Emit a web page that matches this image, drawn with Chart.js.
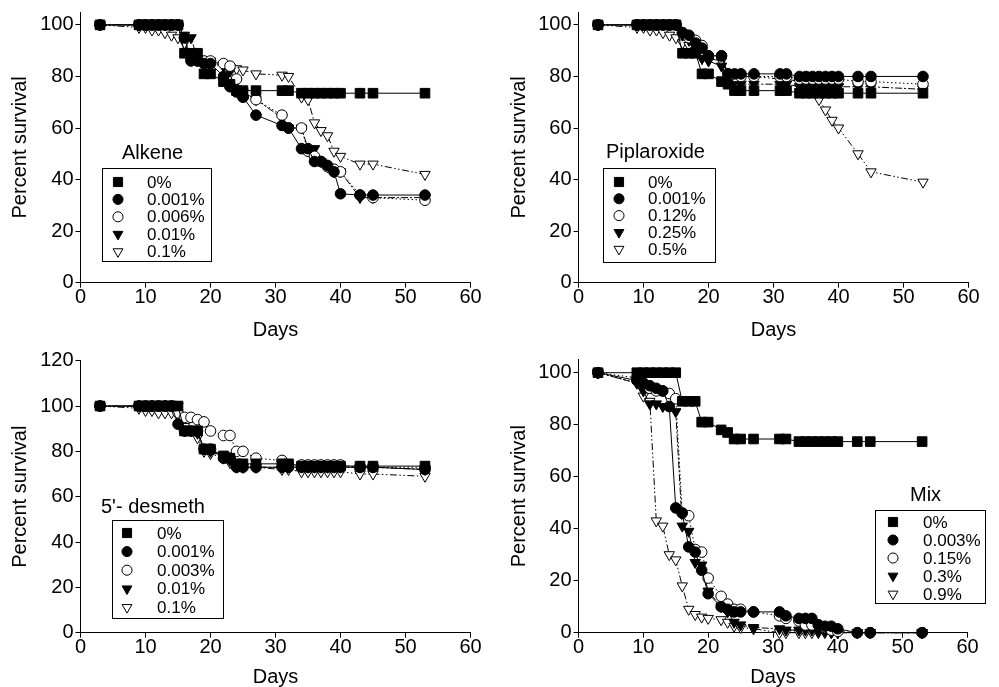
<!DOCTYPE html>
<html>
<head>
<meta charset="utf-8">
<title>Percent survival</title>
<script src="https://cdn.jsdelivr.net/npm/chart.js@4.4.1/dist/chart.umd.min.js"></script>
<style>
  html, body { margin: 0; padding: 0; background: #fff; }
  body { width: 999px; height: 687px; position: relative; overflow: hidden; }
  .panel { position: absolute; }
</style>
</head>
<body>
<div class="panel" style="left:0;top:0;width:499px;height:343px"><canvas id="alkene"></canvas></div>
<div class="panel" style="left:499px;top:0;width:500px;height:343px"><canvas id="piplaroxide"></canvas></div>
<div class="panel" style="left:0;top:343px;width:499px;height:344px"><canvas id="desmeth"></canvas></div>
<div class="panel" style="left:499px;top:343px;width:500px;height:344px"><canvas id="mix"></canvas></div>
<script>
// sampling days, shared by every series
const days = [3, 9, 10, 11, 12, 13, 14, 15, 16, 17, 18, 19, 20, 22, 23, 24, 25, 27, 31, 32, 34, 35, 36, 37, 38, 39, 40, 43, 45, 53];

// untreated control, same in all four panels
const control = [100, 100, 100, 100, 100, 100, 100, 100, 89, 89, 89, 81, 81, 78, 77, 74.5, 74.5, 74.5, 74.5, 74.5, 73.5, 73.5, 73.5, 73.5, 73.5, 73.5, 73.5, 73.5, 73.5, 73.5];

// Alkene
const alkeneLabels = ['0%', '0.001%', '0.006%', '0.01%', '0.1%'];
const alkene001 = [100, 100, 100, 100, 100, 100, 100, 100, 95, 86, 86, 85, 85, 80, 76, 74, 72, 65, 61, 60, 52, 52, 47, 47, 45.5, 43, 34.5, 34, 34, 34];
const alkene006 = [100, 100, 100, 100, 100, 100, 100, 100, 95, 87, 87, 86, 86, 85, 84, 79, 72, 71, 65, 60, 60, 51, 49, 47, 45, 44, 43, 34, 33, 32];
const alkene01 = [100, 100, 100, 100, 100, 100, 100, 100, 96, 95, 87, 86, 86, 84, 82, 78, 74, 71, 64, 60, 60, 52, 52, 47, 45, 43, 43, 33, 33, 33];
const alkene1 = [100, 99, 99, 98, 98, 97, 96, 95, 93, 87, 86, 85, 85, 84, 83.5, 83, 82.5, 81, 80.5, 80, 72, 71, 62, 59, 57, 51, 49, 46, 46, 42];

// Piplaroxide
const pipLabels = ['0%', '0.001%', '0.12%', '0.25%', '0.5%'];
const pip001 = [100, 100, 100, 100, 100, 100, 100, 100, 97, 96, 93, 91, 88, 88, 81, 81, 81, 81, 81, 81, 80, 80, 80, 80, 80, 80, 80, 80, 80, 80];
const pip12 = [100, 100, 100, 100, 100, 100, 100, 100, 97, 95, 94, 92, 88, 88, 81, 80, 80, 80, 80, 80, 79, 79, 79, 79, 79, 79, 79, 78, 78, 77];
const pip25 = [100, 100, 100, 100, 100, 100, 100, 100, 96, 94, 92, 87, 86, 84, 79, 78, 77, 77, 77, 77, 76, 76, 76, 76, 76, 76, 76, 76, 76, 75];
const pip5 = [100, 99, 99, 98, 98, 97, 96, 95, 93, 92, 90, 87, 87, 86, 81, 80, 80, 80, 79, 79, 78, 77, 75, 71, 67, 63, 60, 50, 43, 39];

// 5'- desmeth
const desLabels = ['0%', '0.001%', '0.003%', '0.01%', '0.1%'];
const des001 = [100, 100, 100, 100, 100, 100, 100, 92, 89, 89, 89, 81, 81, 77, 77, 73, 73, 73, 73, 73, 73, 73, 73, 73, 73, 73, 73, 73, 73, 72];
const des003 = [100, 100, 100, 100, 100, 100, 100, 97, 95, 95, 94, 93, 89, 87, 87, 80, 80, 77, 76, 74, 74, 74, 74, 74, 74, 74, 74, 73, 73, 73];
const des01 = [100, 100, 100, 100, 100, 100, 100, 100, 89, 89, 88, 81, 80, 78, 76, 74, 73, 73, 73, 73, 73, 73, 73, 73, 73, 73, 73, 73, 73, 72];
const des1 = [100, 99, 98, 98, 97, 97, 97, 96, 91, 89, 86, 80, 79, 77, 75, 73, 73, 73, 72, 72, 71, 71, 71, 71, 71, 71, 71, 70, 70, 69];

// Mix
const mixLabels = ['0%', '0.003%', '0.15%', '0.3%', '0.9%'];
const mix003 = [100, 97, 96, 95, 94, 93, 87, 48, 46, 33, 31, 24, 15, 10, 9, 8, 8, 8, 8, 6.5, 5.5, 5.5, 5.5, 3, 2.5, 2.5, 1.5, 0, 0, 0];
const mix15 = [100, 98, 96, 94, 93, 93, 92, 90, 46, 45, 32, 31, 21, 14, 11, 9, 9, 8, 6.5, 5.5, 4.5, 3, 3, 3, 2, 1, 0.5, 0, 0, 0];
const mix3 = [100, 96, 93, 88, 88, 87, 87, 85, 41, 39, 27, 26, 16, 10, 8, 4, 3, 2, 1.5, 1, 1, 1, 1, 0.5, 0.5, 0, 0, 0, 0, 0];
const mix9 = [100, 96, 91, 89, 43, 41, 30, 28, 18, 9, 7, 6, 5.5, 5, 4, 2.5, 2, 1.5, 0, 0, 0, 0, 0, 0, 0, 0, 0, 0, 0, 0];

const yTicks100 = [0, 20, 40, 60, 80, 100];
const yTicks120 = [0, 20, 40, 60, 80, 100, 120];

const FONT = "'Liberation Sans', Arial, Helvetica, sans-serif";

// marker + line look for the five concentrations (same order in every panel)
const seriesStyles = [
  { pointStyle: 'rect', fill: '#000', radius: 6.8, rotation: 0, dash: [] },
  { pointStyle: 'circle', fill: '#000', radius: 5.3, rotation: 0, dash: [] },
  { pointStyle: 'circle', fill: '#fff', radius: 5.3, rotation: 0, dash: [1.5, 2.5] },
  { pointStyle: 'triangle', fill: '#000', radius: 6, rotation: 180, dash: [7, 2, 2, 2] },
  { pointStyle: 'triangle', fill: '#fff', radius: 6, rotation: 180, dash: [7, 2.5, 1.5, 2.5, 1.5, 2.5] },
];

// legend drawn inside the plot, like the original figure
const insetLegend = {
  id: 'insetLegend',
  afterDatasetsDraw(chart, args, opts) {
    const { ctx } = chart;
    ctx.save();
    ctx.fillStyle = '#000';
    ctx.textBaseline = 'middle';
    ctx.textAlign = 'left';
    ctx.font = `20px ${FONT}`;
    ctx.fillText(opts.title, opts.titleX, opts.titleY);

    const [bx, by, bw, bh] = opts.box;
    ctx.fillStyle = '#fff';
    ctx.fillRect(bx, by, bw, bh);
    ctx.strokeStyle = '#000';
    ctx.lineWidth = 1;
    ctx.strokeRect(bx, by, bw, bh);

    ctx.font = `17px ${FONT}`;
    chart.data.datasets.forEach((ds, i) => {
      const st = seriesStyles[i];
      const y = opts.firstY + i * opts.stepY;
      ctx.fillStyle = st.fill;
      ctx.strokeStyle = '#000';
      ctx.lineWidth = 1;
      ctx.setLineDash([]);
      Chart.helpers.drawPoint(ctx, {
        pointStyle: st.pointStyle,
        radius: st.radius * 0.95,
        rotation: st.rotation,
        borderWidth: 1,
      }, opts.symbolX, y);
      ctx.fillStyle = '#000';
      ctx.fillText(ds.label, opts.textX, y + 1);
    });
    ctx.restore();
  },
};

function makeDatasets(labels, lists) {
  return lists.map((vals, i) => {
    const st = seriesStyles[i];
    return {
      label: labels[i],
      data: days.map((d, j) => ({ x: d, y: vals[j] })),
      borderColor: '#000',
      borderWidth: 1,
      borderDash: st.dash,
      backgroundColor: st.fill,
      pointStyle: st.pointStyle,
      pointRadius: st.radius,
      pointRotation: st.rotation,
      pointBackgroundColor: st.fill,
      pointBorderColor: '#000',
      pointBorderWidth: 1,
      tension: 0,
      clip: false,
    };
  });
}

function makePanel(id, labels, lists, yMax, yTicks, box) {
  const tickFont = { size: 20, family: FONT, lineHeight: 1 };
  return new Chart(document.getElementById(id), {
    type: 'line',
    data: { datasets: makeDatasets(labels, lists) },
    options: {
      animation: false,
      responsive: true,
      maintainAspectRatio: false,
      events: [],
      layout: { padding: box.padding },
      plugins: {
        legend: { display: false },
        tooltip: { enabled: false },
        insetLegend: box.legend,
      },
      scales: {
        x: {
          type: 'linear',
          min: 0,
          max: 60,
          afterFit: (scale) => { scale.height = box.xHeight; },
          ticks: { stepSize: 10, color: '#000', font: tickFont, padding: 0, maxRotation: 0 },
          grid: { drawOnChartArea: false, drawTicks: true, tickLength: 5, color: '#000' },
          border: { display: true, color: '#000', width: 1 },
          title: {
            display: true,
            text: 'Days',
            color: '#000',
            font: { size: 20, family: FONT, lineHeight: 1 },
            padding: { top: 0, bottom: box.xTitlePad },
          },
        },
        y: {
          min: 0,
          max: yMax,
          afterFit: (scale) => { scale.width = box.yWidth; },
          afterBuildTicks: (scale) => { scale.ticks = yTicks.map((v) => ({ value: v })); },
          ticks: { color: '#000', font: tickFont, padding: 2 },
          grid: { drawOnChartArea: false, drawTicks: true, tickLength: 5, color: '#000' },
          border: { display: true, color: '#000', width: 1 },
          title: {
            display: true,
            text: 'Percent survival',
            color: '#000',
            font: { size: 20, family: FONT, lineHeight: 1 },
            padding: { top: 10, bottom: 0 },
          },
        },
      },
    },
    plugins: [insetLegend],
  });
}

makePanel('alkene', alkeneLabels, [control, alkene001, alkene006, alkene01, alkene1], 105, yTicks100, {
  padding: { left: 0.5, right: 28.5, top: 9.7, bottom: 0 },
  xHeight: 60.3, yWidth: 80, xTitlePad: 3,
  legend: {
    title: 'Alkene', titleX: 122, titleY: 153,
    box: [102.5, 168.5, 109, 93], symbolX: 118, textX: 147, firstY: 182, stepY: 17.4,
  },
});

makePanel('piplaroxide', pipLabels, [control, pip001, pip12, pip25, pip5], 105, yTicks100, {
  padding: { left: 0.5, right: 30.5, top: 9.7, bottom: 0 },
  xHeight: 60.3, yWidth: 79, xTitlePad: 3,
  legend: {
    title: 'Piplaroxide', titleX: 107, titleY: 152,
    box: [104.5, 168.5, 112, 94], symbolX: 120, textX: 149, firstY: 182, stepY: 16.8,
  },
});

makePanel('desmeth', desLabels, [control, des001, des003, des01, des1], 120, yTicks120, {
  padding: { left: 0.5, right: 28.5, top: 17.7, bottom: 0 },
  xHeight: 54.3, yWidth: 80, xTitlePad: 0,
  legend: {
    title: "5'- desmeth", titleX: 101, titleY: 164,
    box: [112.5, 177.5, 111, 98], symbolX: 127, textX: 157, firstY: 190, stepY: 18.6,
  },
});

makePanel('mix', mixLabels, [control, mix003, mix15, mix3, mix9], 105, yTicks100, {
  padding: { left: 0.5, right: 31.5, top: 16.7, bottom: 0 },
  xHeight: 54.3, yWidth: 79, xTitlePad: 0,
  legend: {
    title: 'Mix', titleX: 411, titleY: 152,
    box: [376.5, 167.5, 110, 93], symbolX: 394, textX: 424, firstY: 179, stepY: 18,
  },
});
</script>
</body>
</html>
